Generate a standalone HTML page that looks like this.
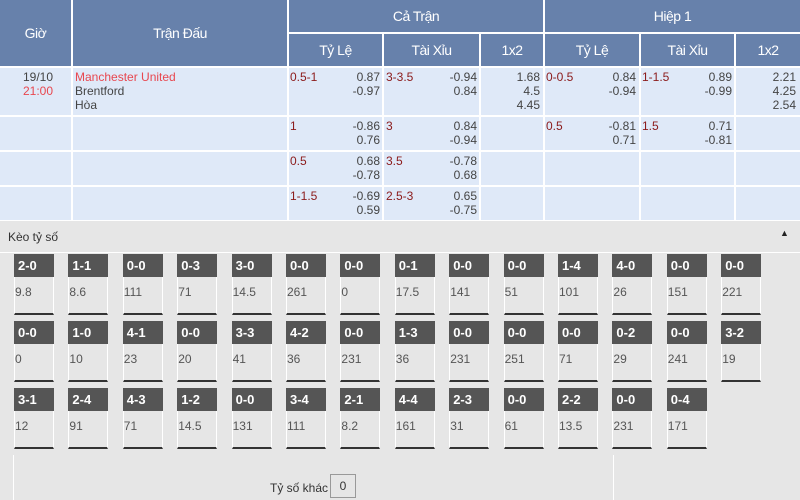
<!DOCTYPE html><html><head><meta charset="utf-8"><style>
*{margin:0;padding:0;box-sizing:border-box}
body{width:800px;height:500px;background:#e6e6e6;font-family:"Liberation Sans","DejaVu Sans",sans-serif;position:relative;overflow:hidden;font-size:12px;color:#444}
.a{position:absolute}
.h{background:#6781ab;color:#fff;display:flex;align-items:center;justify-content:center;font-size:14px;letter-spacing:-0.5px}
.c{background:#dfe9f8}
.r{color:#8b1a1a}
.t{position:absolute;width:40px;height:61px;border-left:1px solid #fff;border-right:1px solid #fff;border-bottom:2px solid #333}
.t b{display:block;background:#555;color:#fff;height:23px;line-height:23px;padding-left:4px;font-size:13px;margin:0 -1px}
.t i{display:block;font-style:normal;font-size:12px;padding-top:8px;color:#555}
.num{text-align:right;line-height:14px}
</style></head><body>
<div class="a" style="left:0;top:0;width:800px;height:221px;background:#fff"></div>
<div class="a h" style="left:0;top:0;width:71px;height:66px">Giờ</div>
<div class="a h" style="left:73px;top:0;width:214px;height:66px">Trận Đấu</div>
<div class="a h" style="left:289px;top:0;width:254px;height:32px">Cả Trận</div>
<div class="a h" style="left:545px;top:0;width:255px;height:32px">Hiệp 1</div>
<div class="a h" style="left:289px;top:34px;width:93px;height:32px">Tỷ Lệ</div>
<div class="a h" style="left:384px;top:34px;width:95px;height:32px">Tài Xỉu</div>
<div class="a h" style="left:481px;top:34px;width:62px;height:32px">1x2</div>
<div class="a h" style="left:545px;top:34px;width:94px;height:32px">Tỷ Lệ</div>
<div class="a h" style="left:641px;top:34px;width:93px;height:32px">Tài Xỉu</div>
<div class="a h" style="left:736px;top:34px;width:64px;height:32px">1x2</div>
<div id="rows"></div>
<script>
var cols=[[0,71],[73,214],[289,93],[384,95],[481,62],[545,94],[641,93],[736,64]];
var rows=[[68,47],[117,33],[152,33],[187,33]];
var h='';
rows.forEach(function(r){cols.forEach(function(c){h+='<div class="a c" style="left:'+c[0]+'px;top:'+r[0]+'px;width:'+c[1]+'px;height:'+r[1]+'px"></div>';});});
function cell(x,y,w,lab,vals){h+='<div class="a" style="left:'+x+'px;top:'+y+'px;width:'+w+'px;line-height:14px"><span class="r">'+lab+'</span><div class="a num" style="right:0;top:0">'+vals.join('<br>')+'</div></div>';}
cell(290,70,90,'0.5-1',['0.87','-0.97']);cell(386,70,91,'3-3.5',['-0.94','0.84']);cell(482,70,58,'',['1.68','4.5','4.45']);
cell(546,70,90,'0-0.5',['0.84','-0.94']);cell(642,70,90,'1-1.5',['0.89','-0.99']);cell(737,70,59,'',['2.21','4.25','2.54']);
cell(290,119,90,'1',['-0.86','0.76']);cell(386,119,91,'3',['0.84','-0.94']);
cell(546,119,90,'0.5',['-0.81','0.71']);cell(642,119,90,'1.5',['0.71','-0.81']);
cell(290,154,90,'0.5',['0.68','-0.78']);cell(386,154,91,'3.5',['-0.78','0.68']);
cell(290,189,90,'1-1.5',['-0.69','0.59']);cell(386,189,91,'2.5-3',['0.65','-0.75']);
h+='<div class="a" style="left:19px;top:70px;line-height:14px;text-align:center;width:38px">19/10<br><span style="color:#e8474f">21:00</span></div>';
h+='<div class="a" style="left:75px;top:70px;line-height:14px"><span style="color:#e8474f">Manchester United</span><br>Brentford<br>Hòa</div>';
h+='<div class="a" style="left:8px;top:230px;font-size:12px;color:#333">Kèo tỷ số</div>';
h+='<div class="a" style="left:780px;top:228px;font-size:9px;color:#222">▲</div>';
h+='<div class="a" style="left:0;top:252px;width:800px;height:1px;background:#fff"></div>';
var d=[["2-0","9.8"],["1-1","8.6"],["0-0","111"],["0-3","71"],["3-0","14.5"],["0-0","261"],["0-0","0"],["0-1","17.5"],["0-0","141"],["0-0","51"],["1-4","101"],["4-0","26"],["0-0","151"],["0-0","221"],
["0-0","0"],["1-0","10"],["4-1","23"],["0-0","20"],["3-3","41"],["4-2","36"],["0-0","231"],["1-3","36"],["0-0","231"],["0-0","251"],["0-0","71"],["0-2","29"],["0-0","241"],["3-2","19"],
["3-1","12"],["2-4","91"],["4-3","71"],["1-2","14.5"],["0-0","131"],["3-4","111"],["2-1","8.2"],["4-4","161"],["2-3","31"],["0-0","61"],["2-2","13.5"],["0-0","231"],["0-4","171"]];
d.forEach(function(t,i){var r=Math.floor(i/14),c=i%14;h+='<div class="t" style="left:'+(14+c*54.4).toFixed(1)+'px;top:'+(254+r*67)+'px"><b>'+t[0]+'</b><i>'+t[1]+'</i></div>';});
h+='<div class="a" style="left:13px;top:455px;width:1px;height:45px;background:#fff"></div>';
h+='<div class="a" style="left:613px;top:455px;width:1px;height:45px;background:#fff"></div>';
h+='<div class="a" style="left:270px;top:481px;color:#333">Tỷ số khác</div>';
h+='<div class="a" style="left:330px;top:474px;width:26px;height:24px;border:1px solid #999;text-align:center;line-height:22px;color:#333">0</div>';
document.getElementById('rows').innerHTML=h;
</script>
</body></html>
